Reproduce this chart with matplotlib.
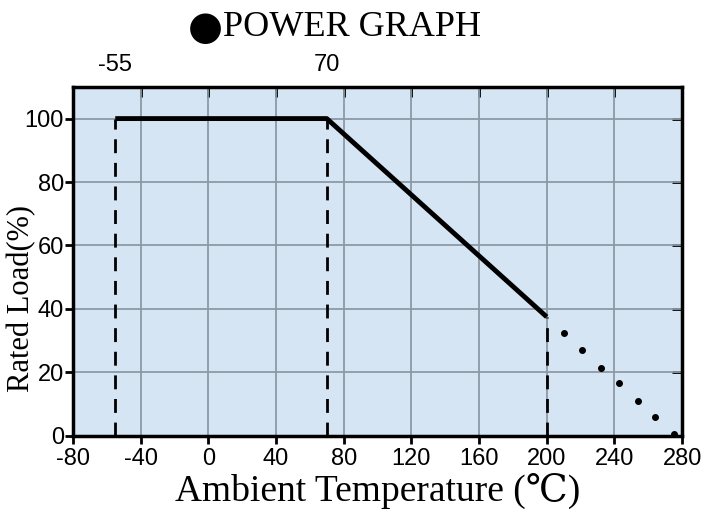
import numpy as np
import matplotlib.pyplot as plt

plt.rcParams['axes.unicode_minus'] = False

# derating curve data
curve_x = [-55, 70, 200]
curve_y = [100, 100, 37.5]
# dotted extension beyond 200 C
dot_x = [210, 221, 232, 243, 254, 264, 275]
dot_y = [32.5, 27, 21.5, 16.5, 11, 6, 0.5]
# vertical reference lines
ref_x = [-55, 70, 200]
ref_top = [100, 100, 37.5]
top_labels = ['-55', '70']
top_pos = [-55, 70]

xticks = np.arange(-80, 281, 40)
yticks = np.arange(0, 101, 20)

serif = ['Liberation Serif', 'DejaVu Serif', 'DejaVu Sans']

fig = plt.figure(figsize=(7.05, 5.17), dpi=100)
ax = fig.add_axes([0.1035, 0.157, 0.864, 0.675])
ax.set_facecolor('#d5e5f3')

ax.set_xlim(-80, 280)
ax.set_ylim(0, 110)
ax.set_xticks(xticks)
ax.set_yticks(yticks)
ax.grid(True, color='#8d99a4', linewidth=1.3)
ax.set_axisbelow(True)

for xv, yt in zip(ref_x, ref_top):
    ax.plot([xv, xv], [0, yt], color='black', linewidth=2, dashes=(5, 3.5))

ax.plot(curve_x, curve_y, color='black', linewidth=3.5, solid_capstyle='butt')
ax.plot(dot_x, dot_y, 'o', color='black', markersize=4)

for s in ax.spines.values():
    s.set_linewidth(2.5)

ax.tick_params(axis='both', labelsize=17, width=2, length=6, direction='out')
ax.tick_params(axis='y', pad=0.5)
ax.tick_params(axis='x', pad=3)
for lab in ax.get_xticklabels() + ax.get_yticklabels():
    lab.set_fontfamily('Liberation Sans')

# inward ticks on top and right
top = ax.secondary_xaxis('top')
top.set_xticks(xticks)
top.tick_params(direction='in', length=7, width=2, labeltop=False)
right = ax.secondary_yaxis('right')
right.set_yticks(yticks)
right.tick_params(direction='in', length=7, width=2, labelright=False)

for lab, xp in zip(top_labels, top_pos):
    ax.text(xp, 1.03, lab, transform=ax.get_xaxis_transform(), ha='center', va='bottom',
            fontsize=17, family='Liberation Sans')

ax.set_xlabel('Ambient Temperature (\u2103)', fontsize=27, family=serif, labelpad=2)
fig.text(0.031, 0.422, 'Rated Load(%)', fontsize=22, family=serif, rotation=90,
         ha='center', va='center')

fig.text(0.291, 0.946, '\u25cf', fontsize=29, family='DejaVu Sans', ha='center', va='center')
fig.text(0.316, 0.946, 'POWER GRAPH', fontsize=26, family=serif, ha='left', va='center')

fig.savefig('out.png', dpi=100)
